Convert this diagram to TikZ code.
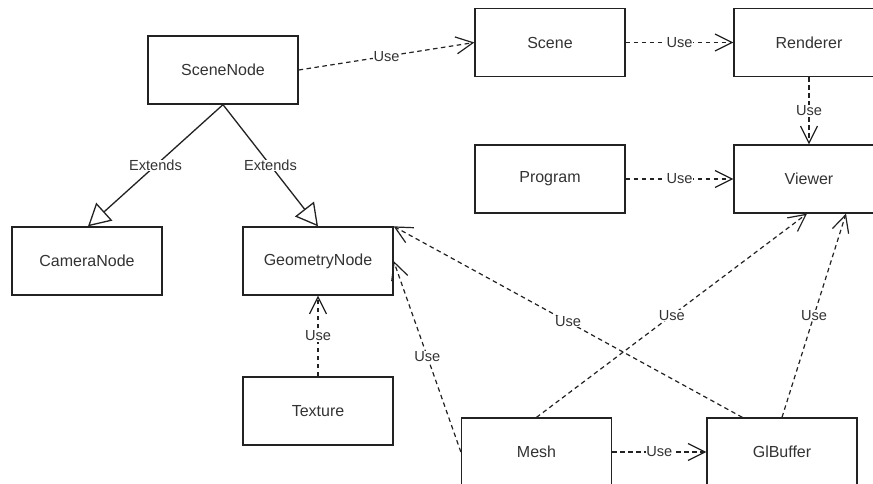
\documentclass[tikz,border=0pt]{standalone}
\usepackage{fontspec}
\setmainfont{Liberation Sans}
\usetikzlibrary{arrows.meta}
\definecolor{txt}{HTML}{333333}
\definecolor{ln}{HTML}{222222}
\tikzset{
  box/.style={draw=ln, line width=1.3pt, fill=white, minimum width=150pt, minimum height=68pt, inner sep=0pt, font=\fontsize{16}{19}\selectfont, text=txt},
  use/.style={draw=ln, line width=1.2pt, dash pattern=on 4.5pt off 3.5pt, -{Straight Barb[length=17pt,width=17pt,line width=1.2pt]}},
  ext/.style={draw=ln, line width=1.3pt, -{Triangle[open,length=22pt,width=24pt,line width=1.3pt,fill=white]}},
  lbl/.style={fill=white, inner sep=0.5pt, font=\fontsize{14.6}{17}\selectfont, text=txt, midway}
}
\begin{document}
\begin{tikzpicture}[x=1pt,y=-1pt]
\useasboundingbox (0,0) rectangle (873,484);
\clip (0,0) rectangle (873,484);
\fill[white] (0,0) rectangle (873,484);
\node[box] (scenenode) at (223,70) {SceneNode};
\node[box] (scene) at (550,42.5) {Scene};
\node[box] (renderer) at (809,42.5) {Renderer};
\node[box] (program) at (550,179) {Program};
\node[box] (viewer) at (809,179) {Viewer};
\node[box] (cameranode) at (87,261) {CameraNode};
\node[box] (geometrynode) at (318,261) {GeometryNode};
\node[box] (texture) at (318,411) {Texture};
\node[box] (mesh) at (536.5,452) {Mesh};
\node[box] (glbuffer) at (782,452) {GlBuffer};
\coordinate (gbstart) at ([xshift=36pt]glbuffer.north west);

\draw[use] (scenenode.east) -- node[lbl]{Use} (scene.west);
\draw[use] (scene.east) -- node[lbl]{Use} (renderer.west);
\draw[use] (renderer.south) -- node[lbl]{Use} (viewer.north);
\draw[use] (program.east) -- node[lbl]{Use} (viewer.west);
\draw[ext] (scenenode.south) -- node[lbl]{Extends} ([xshift=1pt]cameranode.north);
\draw[ext] (scenenode.south) -- node[lbl]{Extends} (geometrynode.north);
\draw[use] (texture.north) -- node[lbl]{Use} (geometrynode.south);
\draw[use] (gbstart) -- node[lbl]{Use} (geometrynode.north east);
\draw[use] (mesh.west) -- node[lbl]{Use} (geometrynode.east);
\draw[use] (mesh.north) -- node[lbl]{Use} ([xshift=-2pt]viewer.south);
\draw[use] (glbuffer.north) -- node[lbl]{Use} ([xshift=37pt]viewer.south);
\draw[use] (mesh.east) -- node[lbl]{Use} (glbuffer.west);
\end{tikzpicture}
\end{document}
